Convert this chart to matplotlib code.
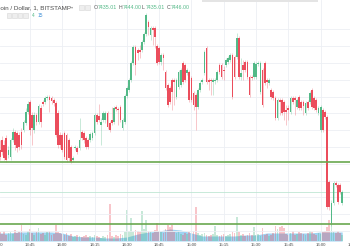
import matplotlib
matplotlib.use("Agg")
import matplotlib.pyplot as plt
import numpy as np
from matplotlib.transforms import blended_transform_factory
from matplotlib.patches import Rectangle

# ---------------- data (BTC/USD, 1-minute candles, minutes after 13:30) ----------------
minutes = list(range(161))
opens = [7503, 7488, 7498, 7493, 7500, 7483, 7481, 7498, 7506, 7505,
         7503, 7506, 7508, 7515, 7526, 7536, 7523, 7508, 7523, 7516,
         7530, 7536, 7536, 7540, 7541, 7540, 7538, 7535, 7525, 7503,
         7503, 7505, 7503, 7498, 7491, 7478, 7490, 7490, 7490, 7506,
         7505, 7500, 7498, 7498, 7500, 7505, 7523, 7522, 7513, 7518,
         7518, 7525, 7515, 7518, 7516, 7531, 7529, 7531, 7510, 7516,
         7542, 7548, 7558, 7575, 7591, 7588, 7588, 7588, 7596, 7604,
         7616, 7603, 7610, 7610, 7592, 7590, 7576, 7583, 7566, 7553,
         7550, 7558, 7558, 7541, 7551, 7553, 7575, 7573, 7565, 7566,
         7560, 7545, 7543, 7531, 7548, 7556, 7565, 7590, 7558, 7558,
         7556, 7557, 7558, 7573, 7573, 7568, 7573, 7576, 7578, 7583,
         7581, 7581, 7600, 7561, 7573, 7576, 7576, 7561, 7561, 7561,
         7561, 7574, 7546, 7568, 7575, 7558, 7555, 7548, 7546, 7540,
         7520, 7538, 7538, 7536, 7528, 7530, 7526, 7540, 7540, 7531,
         7541, 7536, 7536, 7525, 7536, 7536, 7548, 7540, 7538, 7525,
         7508, 7528, 7526, 7521, 7456, 7415, 7435, 7455, 7453, 7453,
         7435.01]
highs = [7508, 7498, 7502, 7498, 7503, 7492, 7500, 7510, 7508, 7507,
         7506, 7510, 7518, 7530, 7537, 7538, 7526, 7526, 7525, 7534,
         7533, 7538, 7542, 7543, 7543, 7542, 7540, 7537, 7528, 7506,
         7505, 7507, 7505, 7500, 7493, 7482, 7493, 7492, 7520, 7508,
         7507, 7502, 7500, 7506, 7507, 7525, 7525, 7534, 7520, 7527,
         7527, 7527, 7517, 7531, 7532, 7533, 7531, 7533, 7520, 7544,
         7552, 7560, 7577, 7593, 7593, 7590, 7593, 7598, 7606, 7625,
         7618, 7612, 7612, 7612, 7594, 7592, 7585, 7585, 7568, 7555,
         7552, 7560, 7560, 7560, 7568, 7570, 7577, 7575, 7570, 7568,
         7562, 7547, 7545, 7550, 7557, 7560, 7588, 7592, 7560, 7560,
         7560, 7560, 7568, 7575, 7575, 7572, 7580, 7582, 7585, 7585,
         7583, 7605, 7602, 7580, 7578, 7578, 7578, 7563, 7563, 7577,
         7576, 7577, 7577, 7570, 7577, 7560, 7560, 7550, 7548, 7542,
         7540, 7540, 7540, 7538, 7533, 7533, 7542, 7542, 7542, 7540,
         7543, 7538, 7538, 7537, 7538, 7547, 7550, 7542, 7540, 7532,
         7533, 7530, 7528, 7523, 7458, 7438, 7457, 7457, 7455, 7455,
         7448]
lows = [7480, 7478, 7483, 7478, 7476, 7480, 7478, 7496, 7488, 7486,
        7488, 7489, 7506, 7513, 7524, 7503, 7493, 7505, 7513, 7514,
        7511, 7532, 7534, 7538, 7526, 7534, 7532, 7501, 7490, 7490,
        7486, 7479, 7476, 7477, 7475, 7476, 7488, 7484, 7488, 7498,
        7495, 7489, 7489, 7496, 7498, 7503, 7514, 7516, 7493, 7516,
        7515, 7509, 7506, 7513, 7514, 7527, 7513, 7516, 7508, 7514,
        7540, 7546, 7556, 7573, 7563, 7578, 7580, 7586, 7594, 7602,
        7603, 7598, 7593, 7590, 7573, 7574, 7573, 7568, 7548, 7531,
        7534, 7528, 7533, 7539, 7549, 7551, 7554, 7556, 7563, 7536,
        7536, 7528, 7508, 7529, 7546, 7554, 7563, 7554, 7548, 7543,
        7543, 7554, 7556, 7564, 7559, 7558, 7571, 7574, 7576, 7539,
        7559, 7579, 7559, 7558, 7558, 7566, 7559, 7541, 7558, 7559,
        7559, 7572, 7544, 7531, 7553, 7550, 7553, 7539, 7538, 7518,
        7518, 7523, 7523, 7518, 7513, 7518, 7524, 7534, 7523, 7529,
        7528, 7528, 7523, 7523, 7528, 7534, 7529, 7528, 7526, 7523,
        7506, 7506, 7519, 7429, 7428, 7412, 7433, 7451, 7434, 7444,
        7433]
closes = [7483, 7481, 7486, 7480, 7478, 7488, 7498, 7506, 7493, 7490,
          7491, 7493, 7516, 7526, 7534, 7508, 7510, 7523, 7516, 7532,
          7516, 7534, 7540, 7541, 7538, 7537, 7535, 7503, 7493, 7493,
          7488, 7481, 7478, 7480, 7476, 7480, 7491, 7486, 7498, 7500,
          7498, 7491, 7491, 7504, 7505, 7523, 7516, 7518, 7516, 7525,
          7525, 7511, 7508, 7515, 7530, 7529, 7528, 7518, 7518, 7542,
          7550, 7558, 7575, 7591, 7573, 7585, 7586, 7596, 7604, 7623,
          7611, 7610, 7608, 7601, 7575, 7576, 7583, 7580, 7550, 7533,
          7536, 7546, 7556, 7558, 7566, 7568, 7556, 7558, 7568, 7538,
          7538, 7533, 7531, 7548, 7555, 7558, 7586, 7556, 7556, 7557,
          7558, 7558, 7566, 7566, 7561, 7567, 7578, 7580, 7583, 7541,
          7561, 7600, 7561, 7565, 7568, 7568, 7561, 7543, 7560, 7575,
          7574, 7575, 7575, 7533, 7555, 7556, 7558, 7541, 7540, 7520,
          7538, 7536, 7525, 7526, 7526, 7528, 7540, 7536, 7538, 7538,
          7530, 7530, 7532, 7535, 7530, 7545, 7531, 7530, 7528, 7530,
          7531, 7508, 7521, 7431, 7431, 7435, 7455, 7453, 7436, 7446,
          7446]
volumes = [8, 9, 7, 10, 6, 8, 9, 7, 11, 8,
           9, 16, 7, 6, 10, 12, 8, 6, 9, 13,
           7, 8, 6, 9, 10, 6, 7, 16, 9, 8,
           7, 6, 8, 5, 7, 4, 5, 6, 5, 4,
           5, 6, 4, 5, 4, 6, 5, 4, 3, 5,
           4, 6, 37, 5, 4, 6, 5, 7, 6, 9,
           31, 10, 23, 9, 11, 10, 9, 30, 12, 21,
           10, 9, 8, 11, 18, 10, 9, 8, 12, 16,
           14, 16, 9, 8, 10, 7, 6, 8, 7, 9,
           8, 10, 34, 8, 6, 7, 8, 6, 5, 6,
           7, 15, 6, 5, 6, 7, 5, 6, 7, 9,
           8, 24, 9, 6, 7, 5, 6, 8, 6, 14,
           6, 7, 5, 13, 6, 7, 5, 6, 8, 15,
           12, 14, 15, 13, 7, 6, 8, 10, 6, 7,
           9, 8, 7, 6, 8, 10, 9, 7, 6, 8,
           7, 9, 10, 14, 21, 28, 9, 8, 10, 8,
           6]
vol_avg_minutes = list(range(0, 161, 5))
vol_avg = [8, 8, 9, 9, 9, 9, 8, 5, 4, 4, 3, 3, 4, 7, 9, 10, 12,
           11, 8, 5, 5, 5, 5, 6, 6, 8, 8, 8, 8, 8, 9, 9, 9]
tick_minutes = [0, 15, 30, 45, 60, 75, 90, 105, 120, 135, 150, 165]
tick_labels = ["13:30", "13:45", "14:00", "14:15", "14:30", "14:45",
               "15:00", "15:15", "15:30", "15:45", "16:00", "16:15"]
support_levels = [7476, 7414]
last_price = 7446
title = "Bitcoin / Dollar, 1, BITSTAMP"
ohlc_labels = ["O", "H", "L", "C"]
ohlc_values = ["7435.01", "7444.00", "7435.01", "7446.00"]
indicator_values = ["4", "15"]

# ---------------- style ----------------
GREEN = "#53b987"
RED = "#eb4d5c"
W, H = 350, 250

fig = plt.figure(figsize=(3.5, 2.5), dpi=100)
fig.patch.set_facecolor("white")
ax = fig.add_axes([0, 9 / H, 1, 241 / H])
axv = ax.twinx()
ax.set_zorder(axv.get_zorder() + 1)
ax.patch.set_visible(False)

x_lo = 2.3 / 2.153
x_hi = (350 + 2.3) / 2.153
ax.set_xlim(x_lo, x_hi)
ax.set_ylim(7397, 7638)
axv.set_ylim(0, 241)

for a in (ax, axv):
    for s in a.spines.values():
        s.set_visible(False)
    a.tick_params(length=0, labelleft=False, labelright=False, labelbottom=False)

# grid
axv.set_yticks([])
ax.set_yticks(np.arange(7608.7, 7397, -16.8))
ax.set_xticks(tick_minutes[1:-1])
ax.grid(True, color="#eceff4", lw=0.6)
ax.set_axisbelow(True)

# volume area + bars
axv.fill_between(vol_avg_minutes, 0, vol_avg, color="#9fd3f2", lw=0, zorder=1)
vcols = [GREEN if c >= o else RED for o, c in zip(opens, closes)]
axv.bar(minutes, volumes, width=0.8, color=vcols, alpha=0.32, lw=0, zorder=2)

# candles
for m, o, hi, lo, c in zip(minutes, opens, highs, lows, closes):
    col = GREEN if c >= o else RED
    ax.vlines(m, lo, hi, color=col, lw=0.5, alpha=0.45, zorder=3)
    body = max(abs(c - o), 0.9)
    ax.bar(m, body, bottom=min(o, c), width=0.8, color=col, lw=0, zorder=4)

# horizontal levels
for lvl in support_levels:
    ax.axhline(lvl, color="#6aa84f", lw=1.2, zorder=5)
ax.axhline(last_price, color="#bfe6d3", lw=0.6, zorder=2)

# time labels
tr = blended_transform_factory(ax.transData, fig.transFigure)
for m, lab in zip(tick_minutes, tick_labels):
    ax.text(m, 1 - 245.5 / H, lab, transform=tr, ha="center", va="center",
            fontsize=3.1, color="#4a4a4a", family="Liberation Sans", clip_on=False)

# header
def fx(x):
    return x / W

def fy(y):
    return 1 - y / H

fig.text(fx(-10.2), fy(7.5), title, fontsize=4.5, color="#4a4a4a",
         family="Liberation Sans", ha="left", va="center")
fig.text(fx(72.5), fy(7.3), "▾", fontsize=3, color="#999999", ha="center", va="center",
         family="DejaVu Sans")
for bx in (78.5, 84.5):
    fig.patches.append(Rectangle((fx(bx), fy(10)), 5 / W, 5 / H, transform=fig.transFigure,
                                 facecolor="#eeeeee", edgecolor="#d6d6d6", lw=0.4))
ohlc_x = [94, 119, 142, 167]
for x0, lab, val in zip(ohlc_x, ohlc_labels, ohlc_values):
    fig.text(fx(x0), fy(7.5), lab, fontsize=3.8, color="#555555",
             family="Liberation Sans", ha="left", va="center")
    fig.text(fx(x0 + 3.3), fy(7.5), val, fontsize=3.8, color=GREEN,
             family="Liberation Sans", ha="left", va="center")

for bx in (6.5, 12, 17.5, 23):
    fig.patches.append(Rectangle((fx(bx), fy(17.5)), 4.5 / W, 4.5 / H, transform=fig.transFigure,
                                 facecolor="#eeeeee", edgecolor="#d6d6d6", lw=0.4))
fig.text(fx(32), fy(15.3), indicator_values[0], fontsize=3.4, color=GREEN,
         family="Liberation Sans", ha="left", va="center")
fig.text(fx(38), fy(15.3), indicator_values[1], fontsize=3.4, color="#3d8ed6",
         family="Liberation Sans", ha="left", va="center")

# toolbar shadow at the top edge
fig.patches.append(Rectangle((fx(202), fy(1.5)), 116 / W, 1.5 / H, transform=fig.transFigure,
                             facecolor="#e4e4e4", edgecolor="none"))

fig.savefig("out.png", dpi=100)
